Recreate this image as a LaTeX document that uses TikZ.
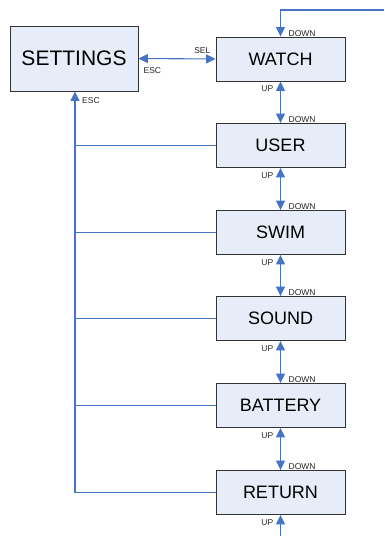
\documentclass[tikz,border=0pt]{standalone}
\usepackage{fontspec}
\setmainfont{Liberation Sans}
\usetikzlibrary{arrows.meta}

\begin{document}
\begin{tikzpicture}[x=1pt,y=-1pt,
	menu/.style={draw=black!80,line width=.9pt,fill=boxfill,minimum width=129pt,minimum height=44pt,inner sep=0pt,font=\fontsize{18}{18}\selectfont},
	link/.style={draw=lineblue,line width=1.1pt},
	arr/.style={link,-{Triangle[length=9.5pt,width=9pt]}},
	darr/.style={link,{Triangle[length=9.5pt,width=9pt]}-{Triangle[length=9.5pt,width=9pt]}},
	key/.style={font=\fontsize{8.5}{8.5}\selectfont,text=black!85,inner sep=0pt}]

	\definecolor{lineblue}{RGB}{70,116,196}
	\definecolor{boxfill}{RGB}{231,237,248}
	\useasboundingbox (0,0) rectangle (384,536);

	\node[menu,minimum width=128pt,minimum height=65pt,font=\fontsize{21}{21}\selectfont] (settings) at (74,58.5) {SETTINGS};
	\node[menu] (watch) at (280.5,59) {WATCH};
	\node[menu] (user) at (280.5,145.5) {USER};
	\node[menu] (swim) at (280.5,232.5) {SWIM};
	\node[menu] (sound) at (280.5,318.5) {SOUND};
	\node[menu] (battery) at (280.5,405.5) {BATTERY};
	\node[menu] (return) at (280.5,492.5) {RETURN};

	\coordinate (topend) at (384,10);
	\coordinate (botend) at (280.5,536);
	\coordinate (escbot) at (75,492.5);

%	menu chain
	\draw[arr] (topend) -| (watch.north);
	\draw[darr] (watch.south) -- (user.north);
	\draw[darr] (user.south) -- (swim.north);
	\draw[darr] (swim.south) -- (sound.north);
	\draw[darr] (sound.south) -- (battery.north);
	\draw[darr] (battery.south) -- (return.north);
	\draw[arr] (botend) -- (return.south);

%	back to settings
	\draw[darr] (settings.east) -- (watch.west);
	\draw[link] (return.west) -- (escbot);
	\draw[arr] (escbot) -- (escbot |- settings.south);
	\draw[link] (user.west) -- (user.west -| escbot);
	\draw[link] (swim.west) -- (swim.west -| escbot);
	\draw[link] (sound.west) -- (sound.west -| escbot);
	\draw[link] (battery.west) -- (battery.west -| escbot);

	\node[key,anchor=south east] (sel) at ([shift={(-5,-5)}]watch.west) {SEL};
	\node[key,anchor=north west] (escr) at ([shift={(5,9)}]settings.east) {ESC};
	\node[key,anchor=north west] (escl) at ([shift={(8,6)}]settings.south) {ESC};

	\node[key,anchor=south west] at ([shift={(8,0)}]watch.north) {DOWN};
	\node[key,anchor=south west] at ([shift={(8,0)}]user.north) {DOWN};
	\node[key,anchor=south west] at ([shift={(8,0)}]swim.north) {DOWN};
	\node[key,anchor=south west] at ([shift={(8,0)}]sound.north) {DOWN};
	\node[key,anchor=south west] at ([shift={(8,0)}]battery.north) {DOWN};
	\node[key,anchor=south west] at ([shift={(8,0)}]return.north) {DOWN};

	\node[key,anchor=north east] at ([shift={(-7,4)}]watch.south) {UP};
	\node[key,anchor=north east] at ([shift={(-7,4)}]user.south) {UP};
	\node[key,anchor=north east] at ([shift={(-7,4)}]swim.south) {UP};
	\node[key,anchor=north east] at ([shift={(-7,4)}]sound.south) {UP};
	\node[key,anchor=north east] at ([shift={(-7,4)}]battery.south) {UP};
	\node[key,anchor=north east] at ([shift={(-7,4)}]return.south) {UP};

\end{tikzpicture}
\end{document}
